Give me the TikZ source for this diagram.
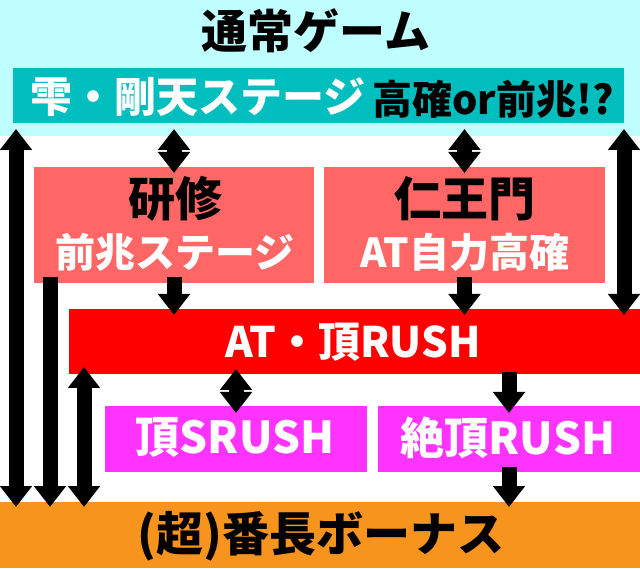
\documentclass[tikz,border=0pt]{standalone}
\usepackage{fontspec}
\newfontfamily\jp{Noto Sans CJK JP}
\usetikzlibrary{arrows.meta,calc}
\definecolor{cyanL}{RGB}{192,255,255}
\definecolor{tealB}{RGB}{0,190,190}
\definecolor{salmonB}{RGB}{255,102,102}
\definecolor{redB}{RGB}{255,0,0}
\definecolor{magB}{RGB}{255,51,255}
\definecolor{orangeB}{RGB}{247,148,29}
\tikzset{
  box/.style={inner sep=0pt, outer sep=0pt, draw=none},
  lbl/.style={inner sep=0pt, outer sep=0pt, font=\jp\bfseries},
  sgl/.style={line width=15pt, -{Triangle[width=31pt,length=21pt]}},
  dbl/.style={line width=15pt, {Triangle[width=31pt,length=21pt]}-{Triangle[width=31pt,length=21pt]}},
}
\newcommand{\fs}[1]{\fontsize{#1}{#1}\selectfont}
\begin{document}
\begin{tikzpicture}[x=1pt,y=1pt]
\useasboundingbox (0,0) rectangle (640,568);
\fill[white] (0,0) rectangle (640,568);
% bands and boxes
\node[box, fill=cyanL, minimum width=640pt, minimum height=136pt, anchor=north west] (band) at (0,568) {};
\node[box, fill=tealB, minimum width=611pt, minimum height=55pt] (teal) at (318.5,472.5) {};
\node[box, fill=salmonB, minimum width=280pt, minimum height=116pt] (srbox) at (174,343) {};
\node[box, fill=salmonB, minimum width=281pt, minimum height=116pt] (niobox) at (464.5,343) {};
\node[box, fill=redB, minimum width=571pt, minimum height=65pt] (atbox) at (354.5,226.5) {};
\node[box, fill=magB, minimum width=262pt, minimum height=66pt] (chobox) at (236,129) {};
\node[box, fill=magB, minimum width=262pt, minimum height=66pt] (zetbox) at (509,129) {};
\node[box, fill=orangeB, minimum width=640pt, minimum height=66pt] (orange) at (320,33) {};
% texts
\node[lbl, text=black] (t1) at (316,537) {\fs{46}通常ゲーム};
\node[lbl, text=white] (t2) at (198,471) {\fs{42}雫・剛天ステージ};
\node[lbl, text=black] (t3) at (493,469) {\fs{40}高確or前兆!?};
\node[lbl, text=black] (t4) at (175,369) {\fs{47}研修};
\node[lbl, text=white] (t5) at (175,316) {\fs{40}前兆ステージ};
\node[lbl, text=black] (t6) at (465,369) {\fs{47}仁王門};
\node[lbl, text=white] (t7) at (465,316) {\fs{40}AT自力高確};
\node[lbl, text=white] (t8) at (353,226) {\fs{42}AT・頂RUSH};
\node[lbl, text=white] (t9) at (235,130) {\fs{44}頂SRUSH};
\node[lbl, text=white] (t10) at (508,130) {\fs{44}絶頂RUSH};
\node[lbl, text=black] (t11) at (321,32) {\fs{47}(超)番長ボーナス};
% arrows
\draw[dbl] ($(teal.south west)+(3,-6)$) -- ($(orange.north west)+(16,-5)$);
\draw[sgl] ($(srbox.south west)+(16,6)$) -- ($(orange.north west)+(50,-5)$);
\draw[dbl] ($(atbox.south west)+(15,7)$) -- ($(orange.north west)+(84,-5)$);
\draw[dbl] ($(teal.south east)+(0,-6)$) -- ($(atbox.north east)+(-16,-6)$);
\draw[dbl] ($(teal.south -| srbox.north)+(0,-6)$) -- ($(srbox.north)+(0,-6)$);
\draw[dbl] ($(teal.south -| niobox.north)+(0,-6)$) -- ($(niobox.north)+(0,-6)$);
\draw[sgl] ($(srbox.south)+(0,6)$) -- ($(atbox.north -| srbox.south)+(0,-6)$);
\draw[sgl] ($(niobox.south)+(0,6)$) -- ($(atbox.north -| niobox.south)+(0,-6)$);
\draw[dbl] ($(atbox.south -| chobox.north)+(0,5)$) -- ($(chobox.north)+(0,-7)$);
\draw[sgl] ($(atbox.south -| zetbox.north)+(0,2)$) -- ($(zetbox.north)+(0,-7)$);
\draw[sgl] ($(zetbox.south)+(0,5)$) -- ($(orange.north -| zetbox.south)+(0,-5)$);
\end{tikzpicture}
\end{document}
